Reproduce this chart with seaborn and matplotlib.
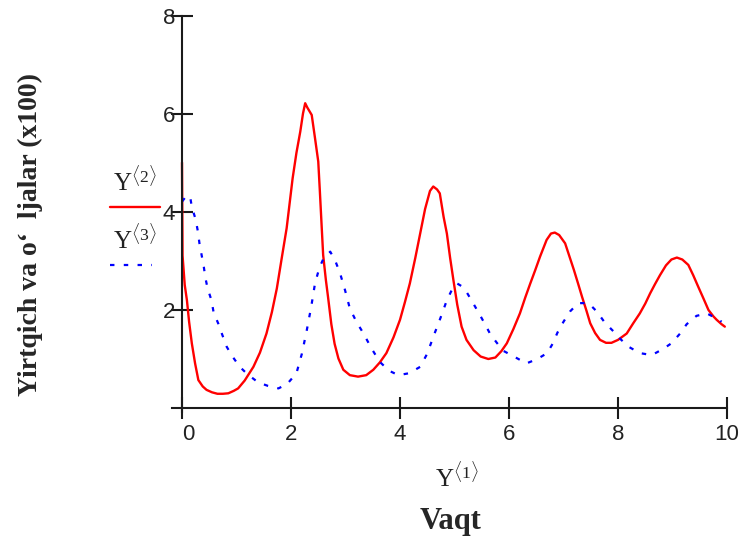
import matplotlib
matplotlib.use("Agg")
import matplotlib.pyplot as plt
import matplotlib.transforms as mtransforms
from matplotlib.lines import Line2D
import numpy as np
import pandas as pd
import seaborn as sns

# time points and predator series Y<2>
t_pred = [0.00, 0.01, 0.05, 0.09, 0.13, 0.18, 0.24, 0.30, 0.38, 0.45, 0.55, 0.65,
          0.75, 0.85, 0.95, 1.03, 1.15, 1.31, 1.43, 1.55, 1.65, 1.74, 1.83, 1.92,
          2.03, 2.10, 2.17, 2.22, 2.26, 2.30, 2.38, 2.44, 2.50, 2.53, 2.56, 2.59,
          2.64, 2.68, 2.74, 2.80, 2.87, 2.96, 3.08, 3.23, 3.38, 3.51, 3.63, 3.75,
          3.88, 4.00, 4.09, 4.18, 4.28, 4.37, 4.46, 4.55, 4.61, 4.68, 4.73, 4.80,
          4.86, 4.92, 4.98, 5.05, 5.13, 5.22, 5.35, 5.48, 5.62, 5.75, 5.86, 5.96,
          6.08, 6.20, 6.30, 6.39, 6.48, 6.57, 6.69, 6.77, 6.84, 6.92, 7.03, 7.11,
          7.19, 7.27, 7.34, 7.42, 7.49, 7.58, 7.67, 7.78, 7.88, 8.00, 8.16, 8.28,
          8.40, 8.50, 8.59, 8.68, 8.77, 8.88, 8.98, 9.08, 9.18, 9.29, 9.38, 9.47,
          9.57, 9.66, 9.75, 9.81, 9.90, 9.96]
y_pred = [5.00, 3.10, 2.50, 2.19, 1.75, 1.31, 0.90, 0.56, 0.43, 0.36, 0.31, 0.28,
          0.28, 0.29, 0.34, 0.39, 0.55, 0.83, 1.12, 1.51, 1.95, 2.43, 3.05, 3.66,
          4.68, 5.20, 5.63, 6.00, 6.21, 6.12, 5.97, 5.50, 5.02, 4.40, 3.75, 3.11,
          2.60, 2.25, 1.70, 1.30, 1.00, 0.77, 0.66, 0.63, 0.66, 0.77, 0.92, 1.11,
          1.43, 1.79, 2.15, 2.53, 3.05, 3.55, 4.05, 4.42, 4.51, 4.45, 4.37, 3.89,
          3.55, 3.05, 2.60, 2.10, 1.65, 1.38, 1.17, 1.04, 0.99, 1.02, 1.15, 1.31,
          1.60, 1.92, 2.25, 2.53, 2.80, 3.08, 3.42, 3.55, 3.57, 3.52, 3.35, 3.08,
          2.81, 2.52, 2.26, 1.98, 1.72, 1.52, 1.38, 1.32, 1.32, 1.38, 1.51, 1.72,
          1.92, 2.12, 2.33, 2.52, 2.70, 2.90, 3.02, 3.06, 3.02, 2.91, 2.70, 2.47,
          2.22, 1.99, 1.86, 1.79, 1.70, 1.65]

# time points and prey series Y<3>
t_prey = [0.00, 0.08, 0.15, 0.18, 0.25, 0.29, 0.32, 0.36, 0.40, 0.43, 0.47, 0.54,
          0.58, 0.67, 0.74, 0.82, 0.92, 1.06, 1.20, 1.40, 1.58, 1.77, 1.93, 2.10,
          2.20, 2.29, 2.37, 2.44, 2.52, 2.60, 2.72, 2.81, 2.90, 2.99, 3.08, 3.20,
          3.33, 3.48, 3.63, 3.80, 3.97, 4.17, 4.37, 4.50, 4.61, 4.74, 4.86, 4.96,
          5.05, 5.14, 5.22, 5.33, 5.44, 5.55, 5.65, 5.77, 5.89, 6.09, 6.32, 6.52,
          6.70, 6.80, 6.89, 7.00, 7.12, 7.27, 7.46, 7.61, 7.76, 7.92, 8.06, 8.21,
          8.40, 8.62, 8.82, 8.98, 9.14, 9.26, 9.44, 9.63, 9.84, 9.90]
y_prey = [4.20, 4.32, 4.30, 4.09, 3.84, 3.60, 3.35, 3.11, 2.87, 2.64, 2.43, 2.19,
          1.94, 1.70, 1.48, 1.24, 1.05, 0.83, 0.68, 0.51, 0.44, 0.39, 0.48, 0.70,
          1.10, 1.58, 2.05, 2.53, 2.85, 3.05, 3.18, 3.00, 2.74, 2.40, 2.02, 1.75,
          1.51, 1.20, 0.93, 0.75, 0.66, 0.70, 0.83, 1.10, 1.44, 1.82, 2.19, 2.42,
          2.53, 2.47, 2.36, 2.15, 1.94, 1.72, 1.51, 1.33, 1.16, 1.04, 0.90, 0.99,
          1.11, 1.30, 1.53, 1.75, 1.96, 2.13, 2.13, 1.96, 1.73, 1.55, 1.38, 1.23,
          1.11, 1.07, 1.19, 1.31, 1.51, 1.70, 1.87, 1.92, 1.80, 1.75]

x_ticks = [0, 2, 4, 6, 8, 10]
y_ticks = [2, 4, 6, 8]

RED = "#ff0000"
BLUE = "#0000ff"

sns.set_style("white")
plt.rcParams["mathtext.fontset"] = "custom"
plt.rcParams["mathtext.rm"] = "Liberation Serif"
plt.rcParams["mathtext.it"] = "Liberation Serif:italic"

fig = plt.figure(figsize=(7.45, 5.42), dpi=100)
W, H = 745, 542
ax = fig.add_axes([172.2 / W, (H - 412.4) / H, (727 - 172.2) / W, (412.4 - 15.5) / H])

pred = pd.DataFrame({"t": t_pred, "v": y_pred})
prey = pd.DataFrame({"t": t_prey, "v": y_prey})

sns.lineplot(data=pred, x="t", y="v", ax=ax, color=RED, lw=1.7,
             estimator=None, sort=False)
sns.lineplot(data=prey, x="t", y="v", ax=ax, color=BLUE, lw=1.6,
             estimator=None, sort=False)
ax.lines[-1].set_dashes([2.0, 4.2])
ax.lines[-1].set_dash_capstyle("butt")

ax.set_xlim(-0.18, 10)
ax.set_ylim(-0.1, 8)
ax.set_xlabel("")
ax.set_ylabel("")
for side in ("top", "right"):
    ax.spines[side].set_visible(False)
ax.spines["left"].set_position(("data", 0))
ax.spines["bottom"].set_position(("data", 0))
for side in ("left", "bottom"):
    ax.spines[side].set_linewidth(1.5)
    ax.spines[side].set_color("#1a1a1a")

ax.set_xticks(x_ticks)
ax.set_yticks(y_ticks)
ax.set_xticklabels([str(v) for v in x_ticks])
ax.set_yticklabels([str(v) for v in y_ticks])
ax.tick_params(axis="both", direction="inout", length=16, width=1.5,
               color="#1a1a1a", labelcolor="#222222", labelsize=16,
               bottom=True, left=True)
ax.tick_params(axis="x", pad=4)
ax.tick_params(axis="y", pad=-3)
for lab in ax.get_xticklabels() + ax.get_yticklabels():
    lab.set_fontfamily("Liberation Sans")
ax.get_xticklabels()[0].set_transform(
    ax.get_xticklabels()[0].get_transform()
    + mtransforms.ScaledTranslation(6 / 100, 0, fig.dpi_scale_trans))

# legend block on the left: labels with line samples underneath
fig.text(113 / W, 1 - 192 / H, r"$\mathrm{Y}^{\langle 2\rangle}$", fontsize=18,
         color="#222222", ha="left", va="baseline")
fig.add_artist(Line2D([110 / W, 160 / W], [1 - 206.7 / H] * 2,
                      transform=fig.transFigure, color=RED, lw=1.7))
fig.text(113 / W, 1 - 250 / H, r"$\mathrm{Y}^{\langle 3\rangle}$", fontsize=18,
         color="#222222", ha="left", va="baseline")
blue_sample = Line2D([110 / W, 152 / W], [1 - 265 / H] * 2,
                     transform=fig.transFigure, color=BLUE, lw=1.6)
blue_sample.set_dashes([2.0, 4.2])
blue_sample.set_dash_capstyle("butt")
fig.add_artist(blue_sample)

# axis titles
fig.text(457 / W, 1 - 488 / H, r"$\mathrm{Y}^{\langle 1\rangle}$", fontsize=18,
         color="#222222", ha="center", va="baseline")
fig.text(451 / W, 1 - 521 / H, "Vaqt", fontsize=22, fontweight="bold",
         fontfamily="Liberation Serif", ha="center", va="center")
fig.text(30 / W, 1 - 235 / H, "Yirtqich va o\u2018  ljalar (x100)", fontsize=20,
         fontweight="bold", fontfamily="Liberation Serif", rotation=90,
         ha="center", va="center")

fig.savefig("out.png", dpi=100)
